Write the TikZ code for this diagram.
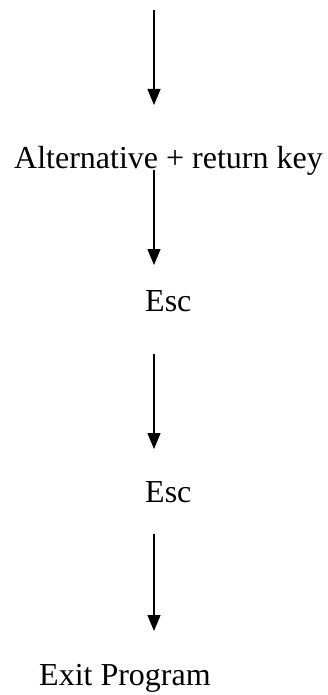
\documentclass[tikz,border=0pt]{standalone}
\usepackage{fontspec}
\setmainfont{Liberation Serif}
\usetikzlibrary{arrows.meta}
\begin{document}
\begin{tikzpicture}[x=1pt,y=1pt,
  lbl/.style={anchor=base west,inner sep=0pt,font=\fontsize{32}{36}\selectfont},
  flow/.style={line width=1.4pt,-{Triangle[length=16pt,width=13pt]}}]
\useasboundingbox (0,0) rectangle (328,-695);
\node[lbl] (alt) at (14,-168) {Alternative + return key};
\node[lbl] (esc1) at (145,-311) {Esc};
\node[lbl] (esc2) at (145,-502) {Esc};
\node[lbl] (exit) at (39,-685) {Exit Program};
\coordinate (s1) at (154,-10);
\coordinate (e1) at (154,-105);
\coordinate (s2) at (154,-170);
\coordinate (e2) at (154,-265);
\coordinate (s3) at (154,-354);
\coordinate (e3) at (154,-449);
\coordinate (s4) at (154,-534);
\coordinate (e4) at (154,-631);
\draw[flow] (s1) -- (e1);
\draw[flow] (s2) -- (e2);
\draw[flow] (s3) -- (e3);
\draw[flow] (s4) -- (e4);
\end{tikzpicture}
\end{document}
